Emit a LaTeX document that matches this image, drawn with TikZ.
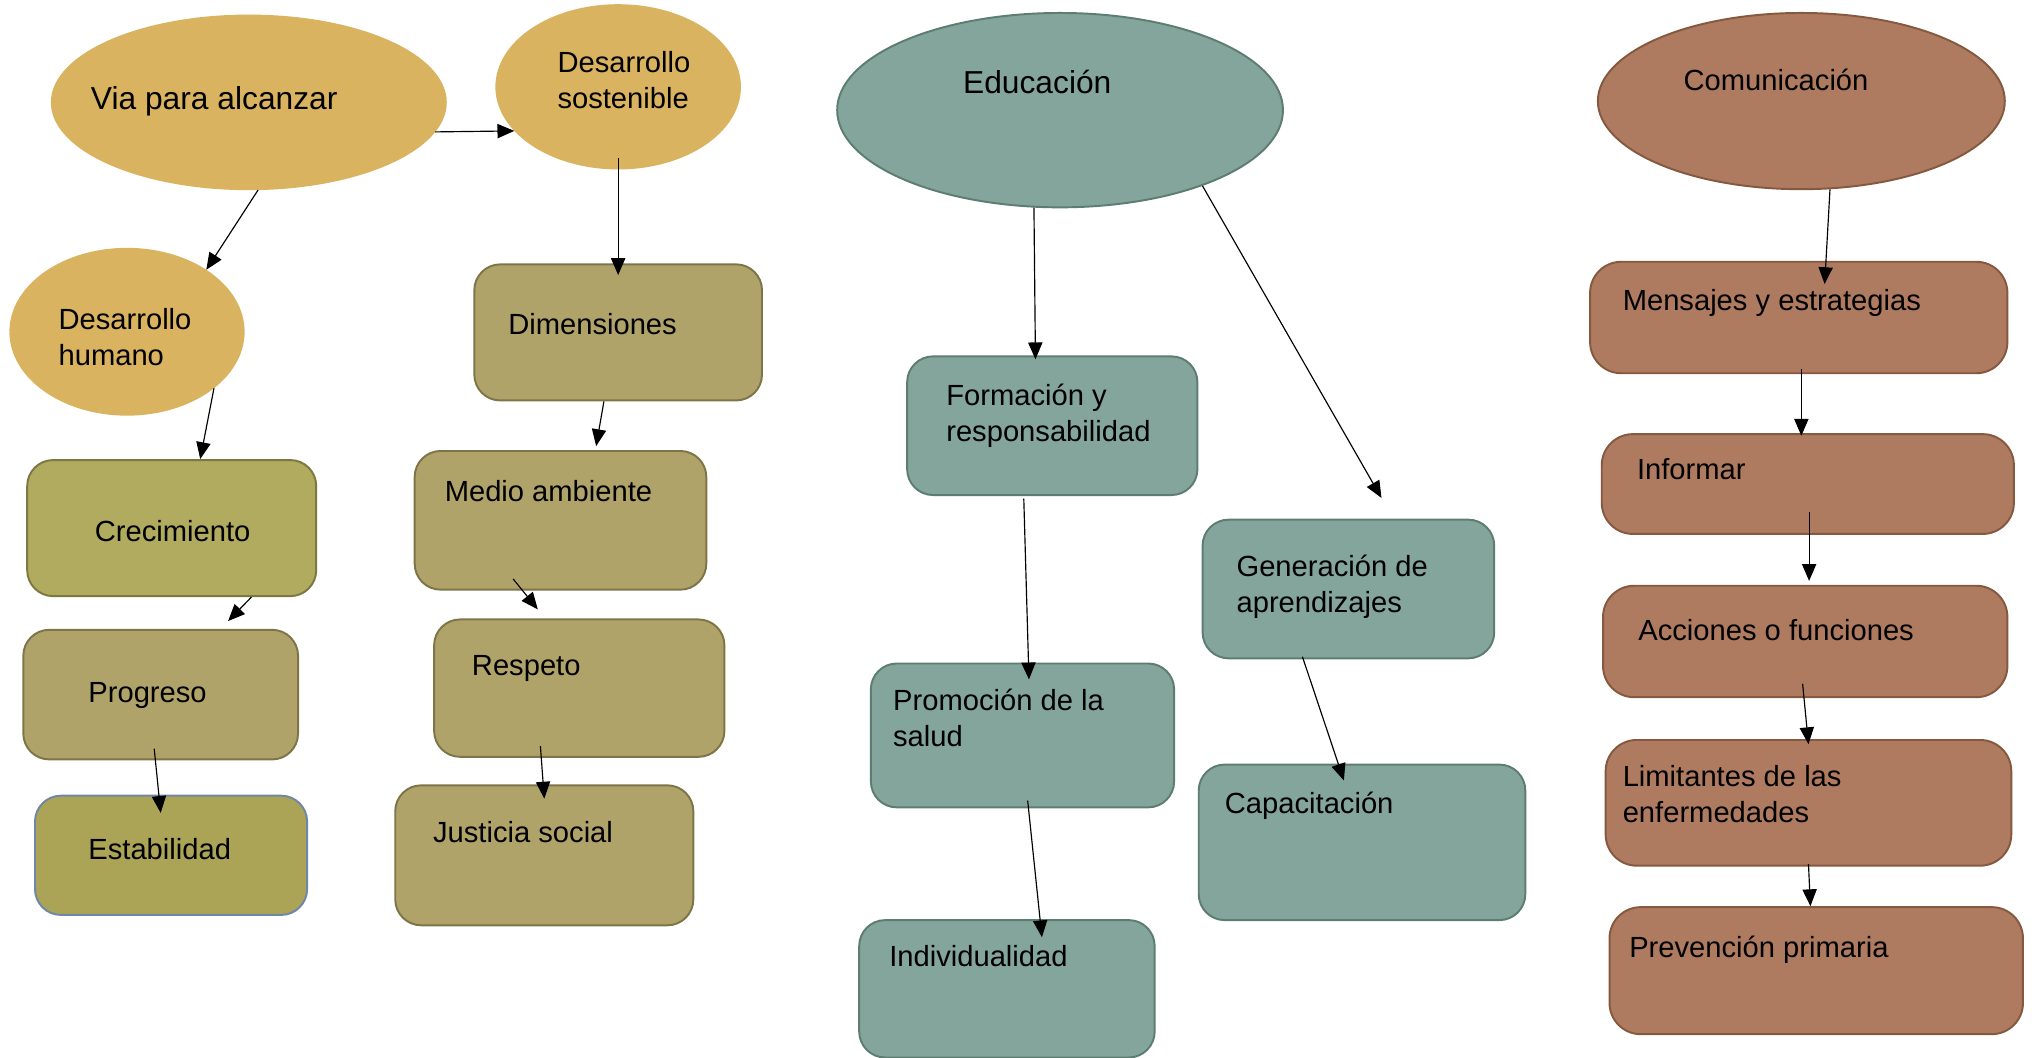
\documentclass[tikz,border=0pt]{standalone}
\usepackage{fontspec}
\setmainfont{Liberation Sans}
\usetikzlibrary{shapes.geometric,arrows.meta}
\definecolor{cGold}{HTML}{D9B35F}
\definecolor{cOlive}{HTML}{B0AB5E}
\definecolor{cOliveDk}{HTML}{7D7840}
\definecolor{cTan}{HTML}{B0A36A}
\definecolor{cTanDk}{HTML}{7D7548}
\definecolor{cEstab}{HTML}{ABA456}
\definecolor{cEstabDk}{HTML}{6F87A5}
\definecolor{cTeal}{HTML}{84A59B}
\definecolor{cTealDk}{HTML}{5E7D72}
\definecolor{cBrown}{HTML}{AF7B60}
\definecolor{cBrownDk}{HTML}{85593F}
\tikzset{
  oval/.style={ellipse, inner sep=0pt, line width=1.5pt},
  goldoval/.style={oval, fill=cGold, draw=cGold},
  tealoval/.style={oval, fill=cTeal, draw=cTealDk},
  brownoval/.style={oval, fill=cBrown, draw=cBrownDk},
  box/.style={rectangle, rounded corners=20pt, line width=1.5pt, inner sep=0pt},
  olivebox/.style={box, fill=cOlive, draw=cOliveDk},
  tanbox/.style={box, fill=cTan, draw=cTanDk},
  estabbox/.style={box, fill=cEstab, draw=cEstabDk},
  tealbox/.style={box, fill=cTeal, draw=cTealDk},
  brownbox/.style={box, fill=cBrown, draw=cBrownDk, rounded corners=24pt},
  txt/.style={inner sep=0pt, anchor=west, align=left, font=\fontsize{22.5}{28}\selectfont},
  bigtxt/.style={txt, font=\fontsize{24.5}{30}\selectfont},
  arr/.style={line width=0.9pt, -{Triangle[length=13pt,width=11pt]}}
}
\begin{document}
\begin{tikzpicture}[x=1pt,y=-1pt]
\fill[white] (0,0) rectangle (1568,816);
\useasboundingbox (0,0) rectangle (1568,816);

% ellipses
\node[goldoval, minimum width=304pt, minimum height=134pt] (via) at (192,79) {};
\node[goldoval, minimum width=188pt, minimum height=126pt] (ds) at (477,67) {};
\node[goldoval, minimum width=180pt, minimum height=128pt] (dh) at (98,256) {};
\node[tealoval, minimum width=344pt, minimum height=150pt] (edu) at (818,85) {};
\node[brownoval, minimum width=314pt, minimum height=136pt] (com) at (1390,78) {};

% boxes
\node[olivebox, minimum width=223pt, minimum height=105pt] (crec) at (132.5,407.5) {};
\node[tanbox, minimum width=212pt, minimum height=100pt] (prog) at (124,536) {};
\node[estabbox, minimum width=210pt, minimum height=92pt] (estab) at (132,660) {};
\node[tanbox, minimum width=222pt, minimum height=105pt] (dim) at (477,256.5) {};
\node[tanbox, minimum width=225pt, minimum height=107pt] (medio) at (432.5,401.5) {};
\node[tanbox, minimum width=224pt, minimum height=106pt] (resp) at (447,531) {};
\node[tanbox, minimum width=230pt, minimum height=108pt] (just) at (420,660) {};
\node[tealbox, minimum width=224pt, minimum height=107pt] (form) at (812,328.5) {};
\node[tealbox, minimum width=234pt, minimum height=111pt] (prom) at (789,567.5) {};
\node[tealbox, minimum width=228pt, minimum height=106pt] (indiv) at (777,763) {};
\node[tealbox, minimum width=225pt, minimum height=107pt] (gen) at (1040.5,454.5) {};
\node[tealbox, minimum width=252pt, minimum height=120pt] (cap) at (1051,650) {};
\node[brownbox, minimum width=322pt, minimum height=86pt] (mens) at (1388,245) {};
\node[brownbox, minimum width=318pt, minimum height=77pt] (inf) at (1395,373.5) {};
\node[brownbox, minimum width=312pt, minimum height=86pt] (acc) at (1393,495) {};
\node[brownbox, minimum width=313pt, minimum height=97pt] (lim) at (1395.5,619.5) {};
\node[brownbox, minimum width=319pt, minimum height=98pt] (prev) at (1401.5,749) {};

% texts
\node[bigtxt] (t-via) at (70,78) {Via para alcanzar};
\node[txt] (t-ds) at (430,62) {Desarrollo\\sostenible};
\node[txt] (t-dh) at (45,260) {Desarrollo\\humano};
\node[bigtxt] (t-edu) at (743,63) {Educación};
\node[txt] (t-com) at (1299,62) {Comunicación};
\node[txt] (t-crec) at (73,410) {Crecimiento};
\node[txt] (t-prog) at (68,537) {Progreso};
\node[txt] (t-estab) at (68,655) {Estabilidad};
\node[txt] (t-dim) at (392,250) {Dimensiones};
\node[txt] (t-medio) at (343,379) {Medio ambiente};
\node[txt] (t-resp) at (364,516) {Respeto};
\node[txt] (t-just) at (334,642) {Justicia social};
\node[txt] (t-form) at (730,321) {Formación y\\responsabilidad};
\node[txt] (t-prom) at (689,554) {Promoción de la\\salud};
\node[txt] (t-indiv) at (686,738) {Individualidad};
\node[txt] (t-gen) at (954,453) {Generación de\\aprendizajes};
\node[txt] (t-cap) at (945,622) {Capacitación};
\node[txt] (t-mens) at (1252,234) {Mensajes y estrategias};
\node[txt] (t-inf) at (1263,362) {Informar};
\node[txt] (t-acc) at (1264,486) {Acciones o funciones};
\node[txt] (t-lim) at (1252,613) {Limitantes de las\\enfermedades};
\node[txt] (t-prev) at (1257,733) {Prevención primaria};

% connectors
\draw[arr] (via.-9) -- (ds.-157);
\draw[arr] (via.-84) -- (dh.38);
\draw[arr] ([yshift=9pt]ds.south) -- ([yshift=-9pt]dim.north);
\draw[arr] (dh.-33) -- ([xshift=22pt]crec.north);
\draw[arr] ([xshift=-11pt]dim.south) -- ([xshift=27.5pt,yshift=3pt]medio.north);
\draw[arr] ([xshift=61.5pt]crec.south) -- ([xshift=52pt,yshift=6pt]prog.north);
\draw[arr] ([xshift=-36.5pt,yshift=9pt]medio.south) -- ([xshift=-32pt,yshift=7pt]resp.north);
\draw[arr] ([xshift=-5pt,yshift=9pt]prog.south) -- ([xshift=-8pt,yshift=-14pt]estab.north);
\draw[arr] ([xshift=-30pt,yshift=9pt]resp.south) -- ([yshift=-11pt]just.north);
\draw[arr] (edu.-105) -- ([xshift=-13pt,yshift=-3pt]form.north);
\draw[arr] (edu.-28) -- ([xshift=25.5pt,yshift=16pt]gen.north);
\draw[arr] ([xshift=-22pt,yshift=-2pt]form.south) -- ([xshift=5pt,yshift=-13pt]prom.north);
\draw[arr] ([xshift=4pt,yshift=6pt]prom.south) -- ([xshift=27pt,yshift=-14pt]indiv.north);
\draw[arr] ([xshift=-35.5pt,yshift=2pt]gen.south) -- ([xshift=-14pt,yshift=-13pt]cap.north);
\draw[arr] (com.-72) -- ([xshift=20pt,yshift=-18pt]mens.north);
\draw[arr] ([xshift=2pt,yshift=4pt]mens.south) -- ([xshift=-5pt,yshift=-2pt]inf.north);
\draw[arr] ([xshift=1pt,yshift=18pt]inf.south) -- ([xshift=3pt,yshift=3pt]acc.north);
\draw[arr] ([xshift=-2pt,yshift=11pt]acc.south) -- ([yshift=-4pt]lim.north);
\draw[arr] ([yshift=2pt]lim.south) -- ([xshift=-4.5pt]prev.north);
\end{tikzpicture}
\end{document}
